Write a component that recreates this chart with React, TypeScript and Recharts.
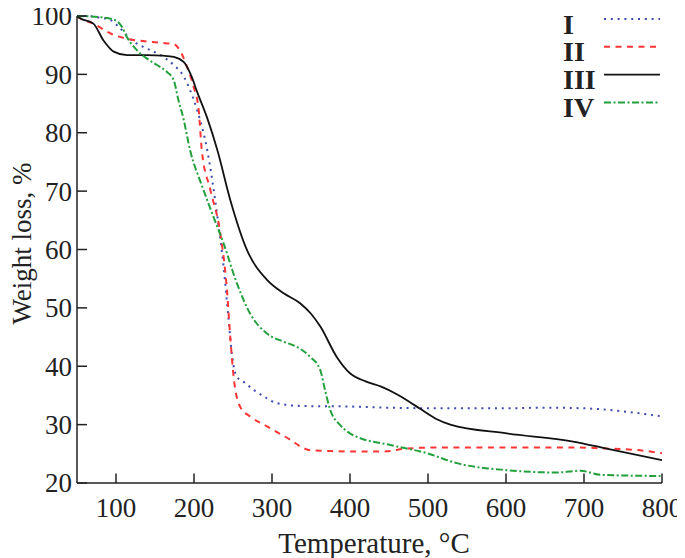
import React from 'react';
import { LineChart, Line, XAxis, YAxis, Legend, Label } from 'recharts';

// Series I (blue dotted)
const tempI = [50, 62, 76, 93, 106, 118, 135, 157, 174, 187, 195, 204, 217, 230, 238, 244, 249, 255, 265, 276, 290, 306, 336, 400, 450, 516, 600, 650, 700, 755, 800];
const lossI = [100, 100, 99.8, 99.3, 97.8, 96.1, 94.7, 93.3, 91.6, 89.6, 87.3, 83.9, 77, 65.6, 57, 48.5, 41.6, 38.2, 37.2, 36, 34.8, 33.7, 33.2, 33.1, 32.9, 32.8, 32.8, 32.9, 32.8, 32.2, 31.4];

// Series II (red dashed)
const tempII = [50, 54, 71, 93, 114, 135, 157, 174, 182, 191, 199.5, 206, 210, 221, 233.7, 242.3, 246.5, 250.8, 259.4, 272, 293.6, 323.5, 340, 349, 370, 396, 443, 473, 516, 600, 686, 729, 772, 800];
const lossII = [100, 99.6, 98.7, 97, 96.1, 95.7, 95.4, 95.2, 94.1, 91.3, 87.9, 83.9, 77, 70.2, 62.8, 53, 45, 38.2, 33, 31.4, 29.7, 27.4, 26, 25.6, 25.5, 25.4, 25.4, 25.9, 26.1, 26.1, 26.1, 25.9, 25.6, 25.1];

// Series III (black solid)
const tempIII = [50, 54, 71, 84, 97, 114, 140, 160, 174, 187, 197, 204, 217, 230, 246.5, 268, 293.6, 315, 336, 350, 362, 383, 400, 420, 440, 460, 475, 490, 510, 528.6, 601, 686, 729, 800];
const lossIII = [100, 99.6, 98.7, 95.8, 93.9, 93.3, 93.3, 93.2, 93, 92.1, 89.6, 87, 82.5, 77, 68.5, 59.9, 54.8, 52.5, 50.8, 49, 46.8, 41.6, 38.8, 37.4, 36.5, 35.2, 34, 32.7, 31, 30, 28.5, 27.1, 25.9, 23.9];

// Series IV (green dash-dot)
const tempIV = [50, 80, 99, 107.7, 114, 127, 139.7, 152.6, 165.4, 174, 180, 186, 195, 210, 225, 238, 255, 272, 293.6, 315, 332, 349, 362, 368, 374.7, 387.5, 400, 409, 451.7, 498.7, 537, 601, 665, 695.5, 721, 798];
const lossIV = [100, 99.8, 99.3, 98.1, 96.4, 94.1, 92.7, 91.6, 90.4, 89, 85.6, 82.7, 77, 71, 65.6, 61, 54.2, 49, 45.6, 44.2, 43.3, 41.6, 39.3, 35.9, 32.5, 29.9, 28.5, 27.9, 26.5, 25.1, 23.4, 22.2, 21.8, 22.1, 21.4, 21.2];

const seriesNames = ['I', 'II', 'III', 'IV'];
const seriesColors = ['#3f49b0', '#ff3535', '#111111', '#22a03c'];
const seriesDash = ['2 4.8', '6 5.5', '', '7 2.5 2 2.5'];
const seriesWidth = [2, 2, 1.8, 2];

const xTicks = [100, 200, 300, 400, 500, 600, 700, 800];
const yTicks = [20, 30, 40, 50, 60, 70, 80, 90, 100];

const xTitle = 'Temperature, °C';
const yTitle = 'Weight loss, %';

const FONT = '"Liberation Serif", "Times New Roman", serif';
const AXIS_COLOR = '#222';
const W = 685;
const H = 558;

const toPoints = (t: number[], w: number[]) => t.map((x, i) => ({ t: x, w: w[i] }));
const seriesData = [toPoints(tempI, lossI), toPoints(tempII, lossII), toPoints(tempIII, lossIII), toPoints(tempIV, lossIV)];

const XTick = (props: any) => {
  const { x, y, payload } = props;
  return (
    <g>
      <line x1={x} y1={y} x2={x} y2={y - 9.5} stroke={AXIS_COLOR} strokeWidth={1.5} />
      <text x={x} y={y + 34} textAnchor="middle" fontFamily={FONT} fontSize={27} fill="#222">
        {payload.value}
      </text>
    </g>
  );
};

const YTick = (props: any) => {
  const { x, y, payload } = props;
  return (
    <g>
      <line x1={x} y1={y} x2={x + 10} y2={y} stroke={AXIS_COLOR} strokeWidth={1.5} />
      <text x={x - 5} y={y} dy="0.35em" textAnchor="end" fontFamily={FONT} fontSize={27} fill="#222">
        {payload.value}
      </text>
    </g>
  );
};

const renderLegend = () => (
  <svg width={W} height={130} style={{ display: 'block' }}>
    {seriesNames.map((n, i) => {
      const base = 33.5 + i * 27.8;
      const ly = base - 14.5;
      return (
        <g key={n}>
          <text x={563} y={base} fontFamily={FONT} fontWeight="bold" fontSize={28} fill="#222">
            {n}
          </text>
          <line
            x1={604}
            y1={ly}
            x2={660}
            y2={ly}
            stroke={seriesColors[i]}
            strokeWidth={seriesWidth[i]}
            strokeDasharray={seriesDash[i] || undefined}
          />
        </g>
      );
    })}
  </svg>
);

export default function App() {
  return (
    <div style={{ marginLeft: -8, marginTop: -8, width: W, height: H }}>
      <LineChart width={W} height={H} margin={{ top: 16, right: 23, bottom: 0, left: 0 }}>
        <XAxis
          dataKey="t"
          type="number"
          domain={[50, 800]}
          ticks={xTicks}
          allowDataOverflow
          height={75}
          tickSize={0}
          tickMargin={0}
          tickLine={false}
          tick={<XTick />}
          axisLine={{ stroke: AXIS_COLOR, strokeWidth: 1.5 }}
        >
          <Label
            content={(p: any) => {
              const vb = p.viewBox;
              return (
                <text x={vb.x + vb.width / 2 + 4.5} y={vb.y + 70} textAnchor="middle" fontFamily={FONT} fontSize={29} fill="#222">
                  {xTitle}
                </text>
              );
            }}
          />
        </XAxis>
        <YAxis
          type="number"
          domain={[20, 100]}
          ticks={yTicks}
          width={77}
          tickSize={0}
          tickMargin={0}
          tickLine={false}
          tick={<YTick />}
          axisLine={{ stroke: AXIS_COLOR, strokeWidth: 1.5 }}
        >
          <Label
            content={(p: any) => {
              const vb = p.viewBox;
              const cy = vb.y + vb.height / 2 - 6;
              return (
                <text x={31} y={cy} transform={`rotate(-90, 31, ${cy})`} textAnchor="middle" fontFamily={FONT} fontSize={27} fill="#222">
                  {yTitle}
                </text>
              );
            }}
          />
        </YAxis>
        <Legend
          layout="horizontal"
          verticalAlign="middle"
          align="center"
          wrapperStyle={{ position: 'absolute', left: 0, top: 0, width: W, height: 130 }}
          content={renderLegend}
        />
        {seriesNames.map((n, i) => (
          <Line
            key={n}
            data={seriesData[i]}
            dataKey="w"
            name={n}
            type="monotone"
            stroke={seriesColors[i]}
            strokeWidth={seriesWidth[i]}
            strokeDasharray={seriesDash[i] || undefined}
            dot={false}
            activeDot={false}
            isAnimationActive={false}
          />
        ))}
      </LineChart>
    </div>
  );
}
